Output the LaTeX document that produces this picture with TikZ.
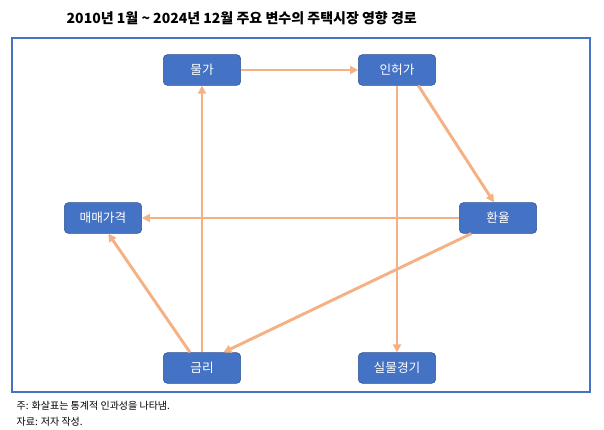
\documentclass[tikz,border=0pt]{standalone}
\usepackage{fontspec}
\setmainfont{Noto Sans CJK KR}
\usetikzlibrary{arrows.meta, positioning}
\definecolor{boxblue}{RGB}{68, 114, 196}
\definecolor{boxedge}{RGB}{47, 82, 143}
\definecolor{arrowor}{RGB}{244, 177, 131}
\definecolor{framebl}{RGB}{68, 114, 196}

\begin{document}
\begin{tikzpicture}[x=0.75pt, y=-0.75pt,
    var/.style={rectangle, rounded corners=3pt, draw=boxedge, fill=boxblue, text=white,
                minimum width=58pt, minimum height=23pt, font=\fontsize{9.5}{11}\selectfont},
    link/.style={-{Triangle[length=6pt, width=6pt]}, draw=arrowor, line width=2.2pt}]
    \useasboundingbox (0,0) rectangle (604,429);

    % Title and frame
    \node[font=\bfseries\fontsize{10.5}{12}\selectfont, anchor=west] (title) at (62,18) {2010년 1월 \textasciitilde{} 2024년 12월 주요 변수의 주택시장 영향 경로};
    \draw[framebl, line width=0.8pt] (12,38) rectangle (590,392);

    % Variables
    \node[var] (price) at (202,70) {물가};
    \node[var] (permit) at (397,70) {인허가};
    \node[var] (fx) at (498,218) {환율};
    \node[var] (house) at (103,218) {매매가격};
    \node[var] (rate) at (202,368) {금리};
    \node[var] (real) at (397,368) {실물경기};

    % Connections
    \draw[link] (price) -- (permit);
    \draw[link] ([xshift=16pt]permit.south) -- ([xshift=-3pt]fx.north);
    \draw[link] (permit.south) -- (real.north);
    \draw[link] (fx) -- (house);
    \draw[link] ([xshift=-20pt]fx.south) -- ([xshift=16pt]rate.north);
    \draw[link] ([xshift=-9pt]rate.north) -- ([xshift=4pt]house.south);
    \draw[link] (rate.north) -- (price.south);

    % Notes
    \node[anchor=west, font=\fontsize{7.5}{9}\selectfont] (note1) at (12,406) {주: 화살표는 통계적 인과성을 나타냄.};
    \node[anchor=west, font=\fontsize{7.5}{9}\selectfont] (note2) at (12,422) {자료: 저자 작성.};
\end{tikzpicture}
\end{document}
